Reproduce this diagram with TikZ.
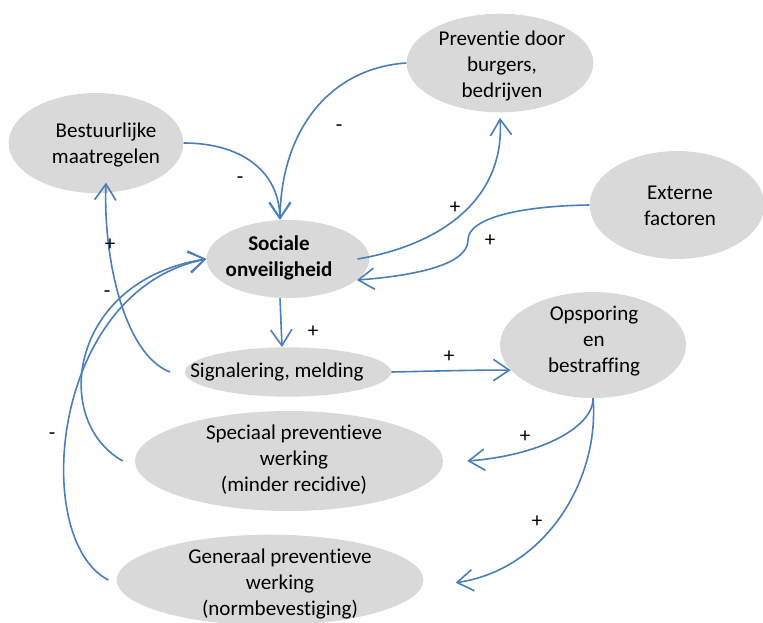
\documentclass[tikz,border=0pt]{standalone}
\usepackage{fontspec}
\setmainfont{Carlito}[Ligatures={NoCommon}]
\usetikzlibrary{shapes.geometric,arrows.meta}
\definecolor{bubfill}{HTML}{D9D9D9}
\definecolor{arrblue}{HTML}{4A7EBB}
\tikzset{
  bub/.style={ellipse, fill=bubfill, draw=none, inner sep=0pt},
  txt/.style={align=center, font=\fontsize{15.8}{19.5}\selectfont, inner sep=0pt},
  sign/.style={font=\fontsize{15.8}{19.5}\selectfont, inner sep=0pt},
  conn/.style={draw=arrblue, line width=1.2pt, -{Straight Barb[length=12pt,width=16pt,line width=1.2pt]}},
}
\begin{document}
\begin{tikzpicture}[x=0.75pt,y=-0.75pt]
\useasboundingbox (0,0) rectangle (763,622);
% ellipses
\node[bub, minimum width=140pt, minimum height=74pt] (prev) at (500,63) {};
\node[bub, minimum width=131pt, minimum height=75pt] (bes) at (96,143) {};
\node[bub, minimum width=131pt, minimum height=81pt] (ext) at (677,205) {};
\node[bub, minimum width=122pt, minimum height=58.5pt] (soc) at (288,259) {};
\node[bub, minimum width=154.5pt, minimum height=37pt] (sig) at (288,372) {};
\node[bub, minimum width=139.5pt, minimum height=79.5pt] (ops) at (593,345) {};
\node[bub, minimum width=231pt, minimum height=75pt] (spe) at (289,461) {};
\node[bub, minimum width=230pt, minimum height=68pt] (gen) at (270,580) {};
% texts
\node[txt] (tprev) at (502,66) {Preventie door\\burgers,\\bedrijven};
\node[txt] (tbes) at (106,145) {Bestuurlijke\\maatregelen};
\node[txt] (text) at (680,206) {Externe\\factoren};
\node[txt, font=\fontsize{15.8}{19.5}\selectfont\bfseries] (tsoc) at (279,258) {Sociale\\onveiligheid};
\node[txt] (tsig) at (277,372) {Signalering, melding};
\node[txt] (tops) at (594,341) {Opsporing\\en\\bestraffing};
\node[txt] (tspe) at (294,460) {Speciaal preventieve\\werking\\(minder recidive)};
\node[txt] (tgen) at (280,584) {Generaal preventieve\\werking\\(normbevestiging)};
% connectors
\draw[conn] (prev.west) .. controls (330,68) and (281,130) .. ([xshift=-6pt]soc.north);
\draw[conn] (bes.east) .. controls (240,143) and (279,170) .. ([xshift=-6pt]soc.north);
\draw[conn] ([xshift=-9pt]soc.east) .. controls (440,245) and (505,200) .. ([yshift=-4pt]prev.south);
\draw[conn] (ext.west) .. controls (520,206) and (468,218) .. (468,240) .. controls (468,266) and (410,276) .. (soc.-17);
\draw[conn] ([xshift=-6pt]soc.south) -- ([xshift=-4.5pt]sig.north);
\draw[conn] (sig.east) .. controls (440,371) and (470,370) .. (ops.197);
\draw[conn] (ops.south) .. controls (594,425) and (545,455) .. ([xshift=18pt]spe.east);
\draw[conn] (ops.south) .. controls (600,480) and (545,570) .. ([xshift=24pt,yshift=-2pt]gen.east);
\draw[conn] ([xshift=-11pt]sig.west) .. controls (125,355) and (103,260) .. ([xshift=7.5pt,yshift=8pt]bes.south);
\draw[conn] ([xshift=-9pt]spe.west) .. controls (50,420) and (70,280) .. (soc.west);
\draw[conn] ([xshift=-6pt]gen.west) .. controls (30,540) and (50,290) .. (soc.west);
% signs
\node[sign] (s1) at (339,128) {-};
\node[sign] (s2) at (240,180) {-};
\node[sign] (s3) at (110,245) {+};
\node[sign] (s4) at (107,294) {-};
\node[sign] (s5) at (455,208) {+};
\node[sign] (s6) at (490,241) {+};
\node[sign] (s7) at (313,332) {+};
\node[sign] (s8) at (52,436) {-};
\node[sign] (s9) at (449,357) {+};
\node[sign] (s10) at (525,437) {+};
\node[sign] (s11) at (537,522) {+};
\end{tikzpicture}
\end{document}
